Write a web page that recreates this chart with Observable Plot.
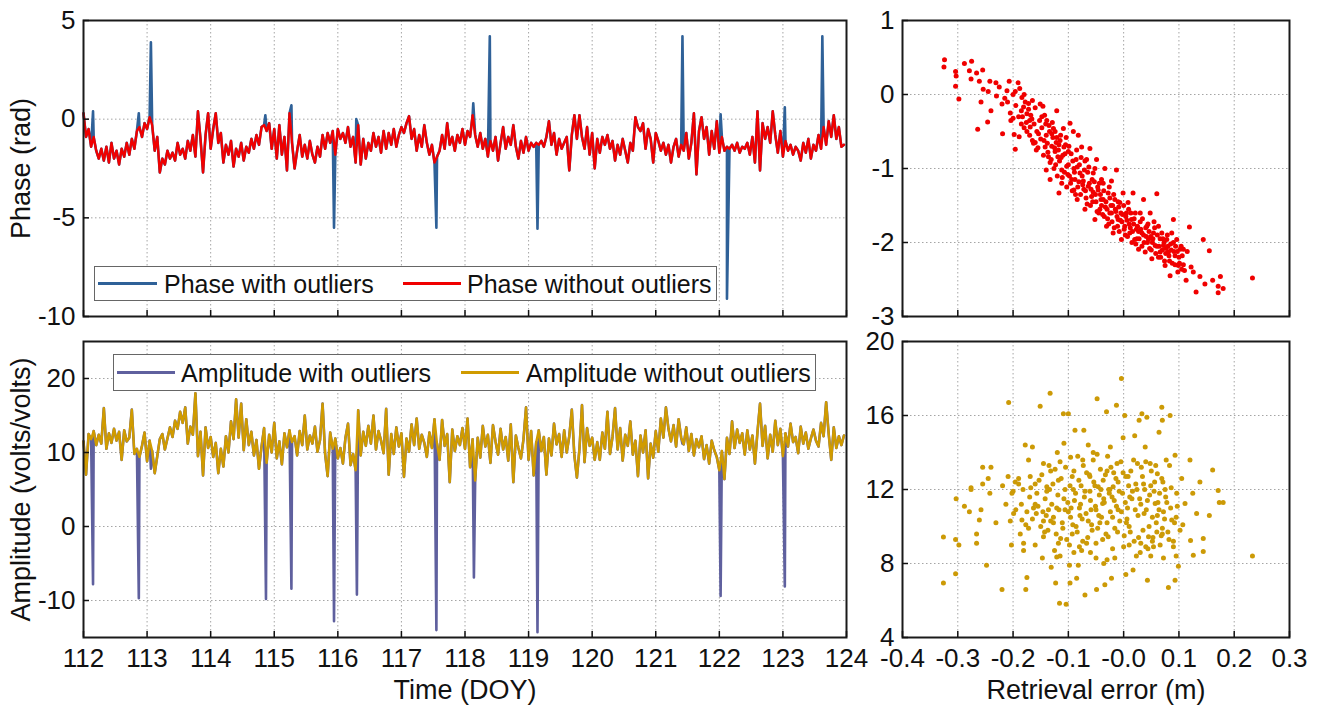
<!DOCTYPE html>
<html>
<head>
<meta charset="utf-8">
<script src="https://cdn.jsdelivr.net/npm/d3@7"></script>
<script src="https://cdn.jsdelivr.net/npm/@observablehq/plot@0.6"></script>
<style>
  html, body { margin: 0; padding: 0; background: #fff; }
  #wrap { position: relative; width: 1320px; height: 705px; overflow: hidden; font-family: 'Liberation Sans', Arial, sans-serif; }
  .pnl { position: absolute; }
  .legend { position: absolute; background: #fff; border: 1px solid #666; box-sizing: border-box; }
  .legend .ln { position: absolute; height: 3px; top: 50%; margin-top: -1.5px; }
  .legend .tx { position: absolute; top: 50%; transform: translateY(-50%); font-size: 25px; color: #111; white-space: nowrap; line-height: 1; }
</style>
</head>
<body>
<div id="wrap"></div>
<script>
// ---------------- DATA ----------------
const doyStart = 112;
const doyStep = 0.04;

const phaseClean = [
  0.3,-0.9,-0.5,-1.4,-0.9,-1.6,-2.0,-1.5,-2.1,-1.4,
  -2.2,-1.2,-2.0,-1.6,-2.3,-1.5,-1.9,-1.2,-1.8,-1.0,
  -1.5,-0.6,-0.4,-0.9,-0.2,-0.5,0.1,-0.3,-1.6,-0.9,
  -2.7,-2.0,-2.3,-1.6,-2.0,-1.7,-2.1,-1.2,-1.8,-1.5,
  -2.0,-1.1,-1.6,-0.8,-1.9,0.4,-1.0,-2.7,-0.8,0.3,
  -1.5,-0.5,0.3,-1.2,-0.7,-2.2,-1.3,-1.8,-1.1,-2.4,
  -1.5,-1.9,-1.2,-2.1,-1.4,-1.7,-1.0,-1.5,-0.8,-1.3,
  -0.4,-0.3,-0.6,-0.2,-1.5,-0.5,-2.0,-0.3,-1.8,-0.9,
  -2.6,0.3,-1.2,-2.5,-1.6,-0.8,-1.9,-1.3,-2.0,-1.1,
  -1.8,-2.2,-1.4,-1.9,-0.8,-1.5,-0.7,-1.2,-0.6,-1.8,
  -0.5,-1.0,-0.7,-1.2,-0.4,-1.4,-0.9,-2.2,-0.3,-2.3,
  -1.0,-2.0,-1.2,-1.6,-0.7,-1.4,-0.9,-1.7,-0.6,-1.5,
  -0.7,-1.3,-0.5,-1.4,-0.8,-0.4,-0.7,-0.2,0.15,-1.0,
  -0.5,-1.6,-0.8,-1.4,-0.3,-1.2,-1.8,-1.3,-2.2,-1.9,
  -1.6,-0.8,-1.5,-0.2,-1.3,-0.9,-1.6,-0.8,-1.2,-0.5,
  -1.3,-0.6,-0.9,0.2,-0.8,-1.4,-0.7,-1.5,-1.0,-1.9,
  -1.1,-1.6,-0.9,-2.1,-1.2,-0.4,-1.5,-0.9,-1.3,-0.3,
  -1.4,-2.0,-1.1,-1.7,-0.9,-1.6,-1.2,-1.4,-1.2,-1.3,
  -1.1,-1.4,-0.9,-0.1,-1.3,-0.7,-1.8,-1.0,-1.5,-1.2,
  -0.9,-2.6,-0.8,0.2,-1.0,0.2,-0.9,-1.5,-0.4,-1.8,
  -0.7,-2.5,-1.0,-1.7,-0.9,-1.3,-0.8,-1.5,-1.1,-2.1,
  -1.3,-1.8,-1.0,-1.6,-2.2,-1.2,-1.6,0.1,-0.4,-0.6,
  -0.2,-1.5,-0.5,-1.0,-2.2,-0.7,-1.1,-1.6,-1.2,-1.8,
  -1.3,-2.2,-1.4,-1.0,-1.9,-1.3,-1.6,-0.7,-2.0,-1.2,
  0.3,-2.8,-0.6,0.1,-1.0,-0.4,-1.8,-0.6,-1.5,-0.1,
  -1.7,-0.9,-1.6,-1.4,-1.5,-1.3,-1.6,-1.2,-1.7,-1.4,
  -1.5,-1.2,-1.8,-0.9,-2.2,0.4,-2.6,-0.2,-1.0,-0.4,
  -1.2,0.4,-0.8,-1.7,-0.6,-1.9,-1.1,-1.6,-1.3,-1.8,
  -1.4,-1.6,-2.1,-1.2,-1.7,-1.0,-2.0,-1.3,-1.6,-0.8,
  -1.5,-0.4,-1.3,-0.1,-0.9,0.2,-1.0,-0.4,-1.4,-1.3
];

const phaseOutliers = [
  [112.15,0.4],[112.87,0.3],[113.06,3.9],[114.86,0.2],[115.27,0.7],
  [115.94,-5.5],[116.29,0.0],[117.55,-5.5],[118.13,0.8],[118.39,4.2],
  [119.14,-5.55],[121.42,4.2],[122.02,0.25],[122.12,-9.1],[123.03,0.6],[123.62,4.2]
];

const ampClean = [
  11.5,7.0,12.5,11.8,12.9,11.0,12.4,11.2,16.0,10.5,
  12.6,11.3,13.2,11.6,12.8,9.0,13.0,11.5,12.0,15.8,
  9.8,10.5,9.4,10.9,12.7,8.8,11.6,10.2,7.2,9.5,
  11.8,12.5,10.4,11.9,13.4,12.1,14.3,13.2,15.5,14.0,
  16.1,11.2,13.5,12.4,18.0,9.5,12.8,6.9,13.4,10.6,
  12.1,9.4,11.3,7.2,10.5,8.1,12.2,10.0,14.2,11.8,
  17.2,12.0,16.6,10.3,14.5,11.0,12.8,9.6,11.7,7.8,
  10.8,13.3,8.6,12.4,10.0,14.0,9.2,11.5,8.4,12.6,
  10.7,13.0,11.4,12.2,9.6,12.9,11.0,15.0,10.4,12.3,
  11.2,13.5,10.1,11.7,16.6,9.8,6.8,12.7,10.5,11.9,
  9.2,10.6,8.5,12.0,13.9,8.3,9.8,7.6,15.7,9.6,
  12.8,10.9,13.6,11.2,15.0,10.4,12.9,11.6,9.9,15.9,
  7.0,12.5,9.8,13.4,10.8,12.6,6.7,11.9,10.1,13.8,
  11.0,14.6,10.5,12.4,11.3,9.4,12.7,10.6,14.5,11.2,
  9.0,14.4,10.9,12.5,6.0,13.1,10.2,12.2,11.0,13.3,
  10.5,14.6,8.0,11.8,6.2,12.0,9.3,13.6,10.8,12.4,
  8.6,13.7,11.5,9.7,13.2,10.4,12.1,8.9,13.8,6.0,
  12.3,10.6,9.2,11.8,16.1,9.0,12.9,6.9,11.4,13.0,
  10.2,12.1,7.0,11.9,9.6,13.9,11.1,12.5,9.4,13.0,
  10.0,12.2,15.8,9.6,6.6,10.5,16.4,8.7,13.3,10.9,
  12.0,9.0,11.4,9.0,12.7,10.5,15.5,9.8,12.1,16.0,
  10.4,13.3,8.9,12.4,10.9,14.2,9.7,11.6,6.8,12.3,
  10.0,13.0,6.5,11.2,9.3,12.9,10.1,14.6,12.0,16.1,
  13.2,11.5,13.7,10.8,14.5,12.0,11.1,13.4,10.2,12.5,
  9.6,11.8,10.7,12.2,9.1,11.0,8.5,11.6,10.3,9.4,
  7.6,10.2,6.4,12.0,9.8,14.2,10.6,13.1,11.3,12.6,
  9.7,13.0,10.4,12.3,8.5,12.8,16.6,10.9,13.6,9.2,
  12.4,10.1,14.3,11.0,13.2,9.5,12.6,10.8,13.9,11.4,
  12.1,9.9,13.5,11.2,12.7,10.5,11.9,13.1,11.6,10.8,
  14.0,12.2,16.8,12.5,9.0,13.4,10.6,12.2,11.0,12.3
];

const ampOutliers = [
  [112.15,-7.8],[112.87,-9.7],[113.06,7.8],[114.87,-9.8],[115.27,-8.4],
  [115.94,-12.8],[116.30,-9.2],[117.55,-14.0],[118.14,-6.9],[118.39,9.4],
  [119.14,-14.3],[121.42,11.2],[122.02,-9.4],[123.03,-8.1]
];

// retrieval error (m) vs phase (rad)
const errPhase = [
  [-0.324,0.47],[-0.325,0.37],[-0.304,0.31],[-0.303,0.25],[-0.304,0.11],[-0.298,-0.06],
  [-0.288,0.42],[-0.275,0.45],[-0.279,0.32],[-0.276,0.21],[-0.266,0.29],[-0.255,0.33],
  [-0.261,0.18],[-0.254,0.07],[-0.258,-0.10],[-0.264,-0.47],[-0.246,-0.37],[-0.240,-0.22],
  [-0.245,0.04],[-0.242,0.18],[-0.231,0.16],[-0.220,-0.13],[-0.219,-0.53],[-0.215,-0.05],
  [-0.211,0.05],[-0.207,0.18],[-0.204,-0.35],[-0.198,-0.54],[-0.196,-0.74],[-0.196,0.04],
  [-0.191,0.16],[-0.184,-0.04],[-0.189,-0.57],[-0.181,-0.17],[-0.175,-0.26],[-0.172,-0.12],
  [-0.169,-0.44],[-0.163,-0.66],[-0.166,-0.33],[-0.158,-0.75],[-0.154,-0.53],[-0.151,-0.13],
  [-0.146,-0.16],[-0.142,-0.71],[-0.140,-1.02],[-0.139,-0.35],[-0.136,-0.84],[-0.133,-1.15],
  [-0.130,-0.53],[-0.127,-0.46],[-0.124,-0.77],[-0.121,-0.22],[-0.119,-0.84],[-0.117,-1.33],
  [-0.115,-0.62],[-0.112,-1.02],[-0.109,-0.46],[-0.108,-0.71],[-0.103,-0.97],[-0.100,-0.77],
  [-0.097,-0.39],[-0.094,-1.15],[-0.091,-0.50],[-0.090,-1.29],[-0.086,-0.88],[-0.084,-1.42],
  [-0.082,-0.55],[-0.079,-1.06],[-0.076,-0.71],[-0.073,-1.17],[-0.070,-1.55],[-0.067,-0.88],
  [-0.064,-1.24],[-0.061,-0.73],[-0.058,-1.38],[-0.055,-1.06],[-0.052,-1.69],[-0.049,-0.88],
  [-0.046,-1.29],[-0.043,-1.55],[-0.040,-1.15],[-0.037,-1.42],[-0.034,-1.00],[-0.031,-1.78],
  [-0.028,-1.33],[-0.025,-1.60],[-0.022,-1.17],[-0.019,-1.87],[-0.016,-1.42],[-0.013,-1.02],
  [-0.010,-1.69],[-0.007,-1.46],[-0.004,-1.96],[-0.001,-1.33],[0.002,-1.78],[0.005,-1.60],
  [0.008,-1.46],[0.011,-1.87],[0.014,-1.69],[0.017,-1.33],[0.020,-1.96],[0.023,-1.82],
  [0.027,-2.09],[0.030,-1.60],[0.033,-1.87],[0.036,-1.42],[0.039,-2.13],[0.042,-1.78],
  [0.045,-1.96],[0.048,-1.60],[0.051,-2.22],[0.054,-1.87],[0.057,-2.04],[0.060,-1.34],
  [0.063,-1.78],[0.066,-2.13],[0.069,-1.87],[0.072,-2.04],[0.075,-2.31],[0.078,-1.96],
  [0.081,-2.13],[0.084,-2.45],[0.087,-1.87],[0.090,-1.69],[0.093,-2.18],[0.096,-1.96],
  [0.099,-2.31],[0.102,-2.09],[0.105,-2.36],[0.108,-2.09],[0.113,-2.51],[0.119,-1.79],
  [0.122,-2.33],[0.126,-2.40],[0.131,-2.67],[0.138,-2.46],[0.144,-1.96],[0.147,-2.56],
  [0.155,-2.11],[0.161,-2.51],[0.171,-2.68],[0.171,-2.59],[0.175,-2.46],[0.180,-2.62],
  [0.233,-2.48],
  [-0.19,-0.3],[-0.185,-0.22],[-0.18,-0.45],[-0.178,-0.1],[-0.176,-0.38],[-0.17,-0.55],
  [-0.168,-0.28],[-0.165,-0.62],[-0.162,-0.4],[-0.16,-0.18],[-0.157,-0.5],[-0.155,-0.72],
  [-0.152,-0.35],[-0.15,-0.6],[-0.148,-0.45],[-0.145,-0.82],[-0.143,-0.28],[-0.14,-0.55],
  [-0.138,-0.66],[-0.135,-0.42],[-0.133,-0.92],[-0.13,-0.7],[-0.128,-0.58],[-0.126,-1.0],
  [-0.124,-0.5],[-0.122,-0.65],[-0.12,-1.1],[-0.118,-0.75],[-0.116,-0.9],[-0.114,-0.55],
  [-0.112,-1.2],[-0.11,-0.82],[-0.107,-1.05],[-0.105,-0.68],[-0.103,-1.25],[-0.1,-0.95],
  [-0.098,-1.1],[-0.095,-0.8],[-0.093,-1.3],[-0.09,-1.0],[-0.088,-1.15],[-0.085,-0.75],
  [-0.083,-1.25],[-0.08,-0.95],[-0.078,-1.35],[-0.075,-1.1],[-0.072,-1.28],[-0.07,-0.9],
  [-0.068,-1.4],[-0.065,-1.05],[-0.062,-1.2],[-0.06,-1.5],[-0.057,-1.15],[-0.055,-1.32],
  [-0.052,-1.0],[-0.05,-1.45],[-0.047,-1.25],[-0.045,-1.6],[-0.042,-1.35],[-0.04,-1.5],
  [-0.037,-1.2],[-0.035,-1.65],[-0.032,-1.45],[-0.03,-1.55],[-0.027,-1.75],[-0.025,-1.4],
  [-0.022,-1.6],[-0.02,-1.5],[-0.017,-1.8],[-0.015,-1.55],[-0.012,-1.65],[-0.01,-1.45],
  [-0.008,-1.85],[-0.005,-1.6],[-0.003,-1.72],[0.0,-1.5],[0.003,-1.9],[0.006,-1.7],
  [0.009,-1.55],[0.012,-1.8],[0.015,-2.0],[0.018,-1.75],[0.021,-1.6],[0.024,-1.95],
  [0.027,-1.85],[0.03,-1.72],[0.033,-2.05],[0.036,-1.9],[0.04,-1.8],[0.043,-2.0],
  [0.046,-1.85],[0.05,-2.1],[0.053,-1.95],[0.056,-1.8],[0.06,-2.05],[0.063,-2.2],
  [0.066,-1.95],[0.07,-2.1],[0.073,-2.0],[0.076,-2.15],[0.08,-2.05],[0.083,-2.25],
  [0.086,-2.1],[0.09,-2.0],[0.093,-2.3],[0.097,-2.12],[0.1,-2.2],[0.104,-2.05],[0.108,-2.3],
  [-0.23,-0.02],[-0.225,0.1],[-0.21,-0.1],[-0.2,0.0],[-0.205,-0.25],[-0.195,-0.15],
  [-0.188,0.08],[-0.183,-0.3],[-0.172,-0.2],
  [-0.148,-0.3],[-0.144,-0.62],[-0.141,-0.4],[-0.137,-0.78],[-0.134,-0.5],[-0.131,-0.88],
  [-0.129,-0.38],[-0.125,-0.72],[-0.123,-0.95],[-0.121,-0.58],[-0.117,-0.68],[-0.113,-0.85],
  [-0.111,-1.12],[-0.106,-0.8],[-0.104,-0.58],[-0.101,-1.08],[-0.099,-0.7],[-0.096,-1.2],
  [-0.092,-0.9],[-0.089,-1.05],[-0.087,-1.35],[-0.084,-0.98],[-0.081,-1.18],[-0.077,-0.85],
  [-0.074,-1.22],[-0.071,-1.02],[-0.069,-1.3],[-0.066,-1.48],[-0.063,-0.98],[-0.059,-1.28],
  [-0.056,-1.45],[-0.053,-1.18],[-0.051,-1.35],[-0.048,-1.58],[-0.044,-1.2],[-0.041,-1.42],
  [-0.038,-1.62],[-0.036,-1.3],[-0.033,-1.52],[-0.029,-1.68],[-0.026,-1.25],[-0.023,-1.5],
  [-0.021,-1.72],[-0.018,-1.35],[-0.014,-1.58],[-0.011,-1.78],[-0.009,-1.52],[-0.006,-1.7],
  [-0.002,-1.62],[0.001,-1.82],[0.004,-1.65],[0.007,-1.92],[0.01,-1.75],[0.013,-1.6],
  [0.016,-1.85],[0.019,-1.68],[0.022,-2.02],[0.025,-1.78],[0.028,-1.95],[0.031,-1.82],
  [0.034,-1.68],[0.037,-2.0],[0.041,-1.92],[0.044,-1.75],[0.047,-2.08],[0.049,-1.92],
  [0.052,-2.0],[0.055,-1.72],[0.058,-2.15],[0.061,-1.9],[0.064,-2.05],[0.067,-2.2],
  [0.071,-1.95],[0.074,-2.25],[0.077,-2.08],[0.079,-1.9],[0.082,-2.18],[0.085,-2.02],
  [0.088,-2.28],[0.091,-2.12],[0.094,-2.05],[0.098,-2.4],[0.101,-2.28],[0.106,-2.18],
  [0.11,-2.38],[0.115,-2.12],[-0.175,-0.5],[-0.16,-0.65],[-0.17,-0.35],[-0.185,-0.4],
  [-0.2,-0.32],[-0.18,0.0],[-0.165,-0.08]
];

// retrieval error (m) vs amplitude (volts/volts)
const errAmp = [
  [-0.326,9.43],[-0.326,6.94],[-0.304,7.44],[-0.303,11.5],[-0.304,9.3],[-0.298,9.0],
  [-0.288,11.1],[-0.279,10.8],[-0.276,12.1],[-0.276,12.0],[-0.266,9.6],[-0.266,9.1],
  [-0.261,10.35],[-0.258,10.9],[-0.255,13.2],[-0.255,12.3],[-0.248,7.9],[-0.245,12.6],
  [-0.242,11.8],[-0.240,13.2],[-0.231,10.2],[-0.220,6.6],[-0.219,12.2],[-0.213,11.2],
  [-0.209,12.7],[-0.208,16.7],[-0.205,10.3],[-0.203,9.0],[-0.202,11.8],[-0.199,10.7],
  [-0.196,12.4],[-0.190,12.3],[-0.187,9.6],[-0.184,10.35],[-0.181,8.7],[-0.181,9.1],
  [-0.178,14.4],[-0.177,6.6],[-0.177,10.1],[-0.175,7.25],[-0.172,13.6],[-0.169,12.7],
  [-0.165,14.3],[-0.163,11.0],[-0.160,9.0],[-0.157,11.8],[-0.151,16.5],[-0.147,8.3],
  [-0.145,13.4],[-0.145,9.45],[-0.139,12.15],[-0.136,10.9],[-0.133,17.2],[-0.132,13.0],
  [-0.131,7.8],[-0.127,10.2],[-0.123,6.95],[-0.121,8.35],[-0.120,14.0],[-0.118,12.5],
  [-0.116,5.85],[-0.114,9.35],[-0.109,16.1],[-0.108,14.5],[-0.106,10.9],[-0.104,5.8],
  [-0.100,16.1],[-0.098,7.9],[-0.097,6.95],[-0.096,13.75],[-0.093,9.6],[-0.091,12.0],
  [-0.088,15.2],[-0.085,7.2],[-0.082,7.9],[-0.079,10.6],[-0.076,8.7],[-0.074,13.6],
  [-0.072,15.2],[-0.070,6.3],[-0.067,9.1],[-0.064,14.4],[-0.061,12.7],[-0.059,10.9],
  [-0.055,14.0],[-0.050,8.3],[-0.049,6.6],[-0.048,16.9],[-0.046,12.15],[-0.043,10.2],
  [-0.038,11.25],[-0.036,8.0],[-0.034,6.85],[-0.031,16.2],[-0.030,13.0],[-0.028,9.45],
  [-0.025,12.0],[-0.024,14.3],[-0.022,7.2],[-0.019,12.15],[-0.016,8.3],[-0.013,16.55],
  [-0.012,13.4],[-0.010,10.9],[-0.004,18.0],[-0.001,14.8],[0.002,16.0],[0.004,7.4],
  [0.005,10.2],[0.008,12.7],[0.011,11.6],[0.017,7.65],[0.020,14.9],[0.023,8.4],
  [0.025,13.4],[0.028,15.75],[0.031,9.1],[0.033,16.1],[0.036,12.3],[0.039,14.3],
  [0.042,15.9],[0.043,7.1],[0.045,9.45],[0.048,13.4],[0.049,8.4],[0.052,10.5],
  [0.054,8.9],[0.057,11.25],[0.061,12.85],[0.064,15.1],[0.064,10.9],[0.069,16.45],
  [0.070,15.75],[0.072,8.3],[0.075,12.0],[0.077,13.6],[0.081,6.7],[0.083,13.3],
  [0.084,16.0],[0.087,10.35],[0.090,8.9],[0.093,13.85],[0.093,7.1],[0.095,8.4],
  [0.096,11.8],[0.097,11.1],[0.099,7.85],[0.102,9.8],[0.105,12.6],[0.107,10.1],
  [0.111,11.25],[0.120,13.6],[0.121,9.25],[0.125,11.8],[0.126,8.45],[0.132,10.7],
  [0.138,12.4],[0.144,9.35],[0.144,8.65],[0.155,10.6],[0.161,13.05],[0.171,11.95],
  [0.173,11.3],[0.180,11.3],[0.233,8.4],
  [-0.17,11.6],[-0.165,10.4],[-0.16,12.3],[-0.155,11.1],[-0.15,10.0],[-0.148,12.8],
  [-0.142,11.5],[-0.14,10.6],[-0.137,9.8],[-0.134,12.0],[-0.13,11.2],[-0.127,10.5],
  [-0.124,13.1],[-0.122,9.6],[-0.119,11.7],[-0.117,10.9],[-0.113,12.6],[-0.111,10.2],
  [-0.108,11.5],[-0.105,13.2],[-0.103,9.3],[-0.1,10.8],[-0.097,12.2],[-0.095,11.0],
  [-0.092,10.1],[-0.09,13.0],[-0.087,11.8],[-0.084,9.7],[-0.081,12.5],[-0.078,11.2],
  [-0.075,10.4],[-0.073,13.3],[-0.07,11.9],[-0.068,10.7],[-0.065,9.4],[-0.062,12.8],
  [-0.06,11.4],[-0.058,10.1],[-0.055,13.6],[-0.052,12.2],[-0.05,10.9],[-0.047,9.9],
  [-0.044,11.7],[-0.042,13.1],[-0.04,10.5],[-0.037,12.5],[-0.035,11.3],[-0.032,9.6],
  [-0.029,13.8],[-0.027,12.0],[-0.024,10.8],[-0.021,11.6],[-0.018,12.9],[-0.016,9.9],
  [-0.013,11.1],[-0.01,12.4],[-0.007,10.3],[-0.005,13.5],[-0.002,11.8],[0.001,9.5],
  [0.004,12.7],[0.007,11.0],[0.01,10.0],[0.013,13.0],[0.016,11.9],[0.019,9.2],
  [0.022,12.3],[0.026,10.6],[0.029,11.5],[0.032,13.2],[0.035,9.8],[0.038,12.0],
  [0.041,10.9],[0.044,8.8],[0.047,11.7],[0.05,13.0],[0.053,9.4],[0.056,12.4],
  [0.059,10.2],[0.062,11.3],[0.066,9.0],[0.069,12.6],[0.072,10.8],[0.076,11.6],
  [0.08,9.7],[0.085,11.0],[0.09,9.2],[0.095,10.5],[-0.19,12.6],[-0.185,11.2],
  [-0.175,10.8],[-0.145,10.3],[-0.125,8.7],[-0.115,8.4],[-0.09,8.6],[-0.06,8.6],
  [-0.03,8.2],[0.0,8.9],[0.03,8.6],[0.06,9.7],[0.07,9.6],
  [-0.16,11.2],[-0.153,12.5],[-0.146,10.8],[-0.139,11.9],[-0.132,10.3],[-0.128,12.3],
  [-0.121,11.0],[-0.115,13.5],[-0.11,9.9],[-0.106,12.0],[-0.101,11.3],[-0.096,10.5],
  [-0.093,12.7],[-0.089,11.4],[-0.086,10.0],[-0.083,13.8],[-0.08,11.0],[-0.077,12.2],
  [-0.074,9.2],[-0.071,11.6],[-0.067,12.9],[-0.064,10.3],[-0.061,11.9],[-0.057,9.8],
  [-0.054,12.4],[-0.051,11.1],[-0.048,13.9],[-0.045,10.6],[-0.041,12.0],[-0.038,9.3],
  [-0.036,11.5],[-0.033,12.8],[-0.03,10.2],[-0.026,11.8],[-0.023,13.2],[-0.02,10.5],
  [-0.017,11.4],[-0.014,12.6],[-0.011,9.7],[-0.008,11.9],[-0.004,10.8],[-0.001,12.9],
  [0.003,11.3],[0.006,10.4],[0.009,12.2],[0.012,9.7],[0.015,11.5],[0.018,13.6],
  [0.021,10.9],[0.024,12.0],[0.027,9.4],[0.031,11.2],[0.034,12.7],[0.037,10.7],
  [0.04,13.5],[0.043,11.4],[0.046,10.0],[0.049,12.2],[0.052,9.2],[0.055,11.9],
  [0.058,13.3],[0.061,10.6],[0.065,11.8],[0.068,9.5],[0.071,12.4],[0.074,10.4],
  [0.078,11.3],[0.082,9.3],[0.086,12.1],[0.092,10.2],[-0.2,11.9],[-0.195,10.9],
  [-0.182,12.0],[-0.172,9.9],[-0.168,12.1],[-0.158,10.7],[-0.143,9.7],[-0.135,13.3],
  [-0.118,9.1],[-0.098,9.0],[-0.08,8.9],[-0.05,9.1],[-0.02,8.8],[0.01,9.0],
  [0.04,8.9],[0.07,9.9]
];

// ticks and labels
const doyTicks = [112,113,114,115,116,117,118,119,120,121,122,123,124];
const phaseTicks = [-10,-5,0,5];
const ampTicks = [-10,0,10,20];
const errTicks = [-0.4,-0.3,-0.2,-0.1,0,0.1,0.2,0.3];
const errTickLabels = ["-0.4","-0.3","-0.2","-0.1","-0.0","0.1","0.2","0.3"];
const scatPhaseTicks = [-3,-2,-1,0,1];
const scatAmpTicks = [4,8,12,16,20];

const seriesNames = ["Phase with outliers","Phase without outliers","Amplitude with outliers","Amplitude without outliers"];
const colors = {phaseWith:"#2f6198", phaseWithout:"#f00000", ampWith:"#5f609e", ampWithout:"#d09b00", scatPhase:"#f00000", scatAmp:"#cc9a06"};

// ---------------- BUILD ROWS ----------------
const phaseRows = phaseClean.map((v,i) => ({doy: doyStart + i*doyStep, v}));
const phaseWithRows = phaseRows.concat(phaseOutliers.map(([doy,v]) => ({doy, v}))).sort((a,b) => a.doy - b.doy);
const ampRows = ampClean.map((v,i) => ({doy: doyStart + i*doyStep, v}));
const ampWithRows = ampRows.concat(ampOutliers.map(([doy,v]) => ({doy, v}))).sort((a,b) => a.doy - b.doy);

const TICKFONT = 26;
const TITLEFONT = 27;
const plain = d => String(d);
function panel(o) {
  const marks = [
    Plot.gridX(o.xTicks, {stroke:"#a5a5a5", strokeOpacity:1, strokeDasharray:"1.5,2.5", strokeWidth:1}),
    Plot.gridY(o.yTicks, {stroke:"#a5a5a5", strokeOpacity:1, strokeDasharray:"1.5,2.5", strokeWidth:1}),
    ...o.marks,
    Plot.frame({stroke:"#1a1a1a", strokeWidth:2}),
    Plot.axisX(o.xTicks, {tickSize:-6, tickFormat:() => "", label:null, strokeWidth:1.5}),
    Plot.axisY(o.yTicks, {tickSize:-6, tickFormat:() => "", label:null, strokeWidth:1.5}),
    Plot.axisY(o.yTicks, {tickSize:0, tickPadding:8, tickFormat:plain, label:null, fontSize:TICKFONT}),
    o.xFmt ? Plot.axisX(o.xTicks, {tickSize:0, tickPadding:11, tickFormat:o.xFmt, label:null, fontSize:TICKFONT}) : null,
    o.xLabel ? Plot.text([o.xLabel], {text:d => d, frameAnchor:"bottom", textAnchor:"middle", lineAnchor:"middle", dy:53, fontSize:TITLEFONT}) : null,
    o.yLabel ? Plot.text([o.yLabel], {text:d => d, frameAnchor:"left", textAnchor:"middle", lineAnchor:"middle", dx:-62, rotate:-90, fontSize:TITLEFONT}) : null
  ].filter(Boolean);
  return Plot.plot({
    width:o.width, height:o.height,
    marginLeft:o.ml, marginTop:o.mt, marginRight:o.mr, marginBottom:o.mb,
    style:{fontFamily:"'Liberation Sans', Arial, sans-serif", fontSize:TICKFONT+"px", background:"transparent", color:"#111", overflow:"visible"},
    x:{domain:o.xDomain}, y:{domain:o.yDomain},
    marks
  });
}

const wrap = document.getElementById("wrap");
function place(node, left, top) {
  node.classList.add("pnl");
  node.style.left = left + "px";
  node.style.top = top + "px";
  wrap.appendChild(node);
}

place(panel({
  width:860, height:330, ml:83, mt:20, mr:14, mb:14,
  xDomain:[112,124], yDomain:[-10,5], xTicks:doyTicks, yTicks:phaseTicks,
  yLabel:"Phase (rad)",
  marks:[
    Plot.line(phaseWithRows, {x:"doy", y:"v", stroke:colors.phaseWith, strokeWidth:2.6}),
    Plot.line(phaseRows, {x:"doy", y:"v", stroke:colors.phaseWithout, strokeWidth:2.4})
  ]
}), 0, 0);

place(panel({
  width:860, height:375, ml:83, mt:11, mr:14, mb:68,
  xDomain:[112,124], yDomain:[-15,25], xTicks:doyTicks, yTicks:ampTicks,
  xFmt:plain, xLabel:"Time (DOY)", yLabel:"Amplitude (volts/volts)",
  marks:[
    Plot.line(ampWithRows, {x:"doy", y:"v", stroke:colors.ampWith, strokeWidth:2.6}),
    Plot.line(ampRows, {x:"doy", y:"v", stroke:colors.ampWithout, strokeWidth:2.4})
  ]
}), 0, 330);

place(panel({
  width:460, height:330, ml:42, mt:20, mr:31, mb:14,
  xDomain:[-0.4,0.3], yDomain:[-3,1], xTicks:errTicks, yTicks:scatPhaseTicks,
  marks:[ Plot.dot(errPhase, {x:d => d[0], y:d => d[1], r:2.5, fill:colors.scatPhase}) ]
}), 860, 0);

place(panel({
  width:460, height:375, ml:42, mt:11, mr:31, mb:68,
  xDomain:[-0.4,0.3], yDomain:[4,20], xTicks:errTicks, yTicks:scatAmpTicks,
  xFmt:d => errTickLabels[errTicks.indexOf(d)], xLabel:"Retrieval error (m)",
  marks:[ Plot.dot(errAmp, {x:d => d[0], y:d => d[1], r:2.5, fill:colors.scatAmp}) ]
}), 860, 330);

// ---------------- LEGENDS ----------------
function legend(left, top, width, height, items) {
  const box = document.createElement("div");
  box.className = "legend";
  Object.assign(box.style, {left:left+"px", top:top+"px", width:width+"px", height:height+"px"});
  for (const it of items) {
    const ln = document.createElement("div");
    ln.className = "ln";
    Object.assign(ln.style, {left:it.lx+"px", width:it.lw+"px", background:it.color});
    const tx = document.createElement("div");
    tx.className = "tx";
    tx.style.left = it.tx + "px";
    tx.textContent = it.name;
    box.appendChild(ln); box.appendChild(tx);
  }
  wrap.appendChild(box);
}
legend(94, 266, 623, 35, [
  {name:seriesNames[0], color:colors.phaseWith, lx:3, lw:59, tx:69},
  {name:seriesNames[1], color:colors.phaseWithout, lx:308, lw:58, tx:372}
]);
legend(113, 354, 703, 37, [
  {name:seriesNames[2], color:colors.ampWith, lx:3, lw:58, tx:67},
  {name:seriesNames[3], color:colors.ampWithout, lx:347, lw:58, tx:412}
]);
</script>
</body>
</html>
